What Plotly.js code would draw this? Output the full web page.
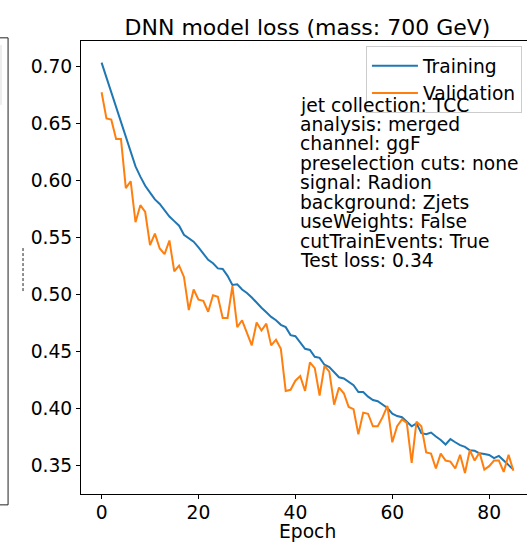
<!DOCTYPE html>
<html>
<head>
<meta charset="utf-8">
<script src="https://cdn.plot.ly/plotly-3.0.1.min.js"></script>
<style>
html,body{margin:0;padding:0;overflow:hidden;background:#fff;width:527px;height:542px;}
#chart{width:545px;height:542px;}
</style>
</head>
<body>
<div id="chart"></div>
<script>
const epochs = Array.from({length: 86}, (_, i) => i);
const trainingLoss = [
0.703,0.690,0.677,0.664,0.651,0.638,0.625,0.612,0.603,0.595,
0.589,0.583,0.579,0.573,0.568,0.564,0.560,0.552,0.549,0.546,
0.541,0.536,0.530,0.527,0.5225,0.522,0.516,0.508,0.5085,0.504,
0.501,0.497,0.492,0.488,0.484,0.480,0.477,0.473,0.471,0.464,
0.463,0.457,0.452,0.451,0.445,0.444,0.438,0.436,0.431,0.427,
0.426,0.423,0.420,0.414,0.414,0.410,0.407,0.406,0.403,0.400,
0.395,0.393,0.392,0.388,0.384,0.3866,0.378,0.377,0.3785,0.375,
0.372,0.368,0.3728,0.370,0.3675,0.366,0.363,0.3625,0.3603,0.3596,
0.3588,0.356,0.358,0.354,0.350,0.346];
const validationLoss = [
0.677,0.654,0.653,0.636,0.636,0.593,0.599,0.563,0.578,0.572,
0.543,0.553,0.540,0.535,0.547,0.520,0.525,0.515,0.486,0.504,
0.495,0.494,0.4845,0.499,0.4977,0.479,0.479,0.507,0.471,0.477,
0.466,0.455,0.475,0.468,0.474,0.455,0.460,0.452,0.415,0.416,
0.424,0.428,0.415,0.440,0.435,0.411,0.437,0.432,0.403,0.418,
0.413,0.401,0.399,0.377,0.396,0.395,0.384,0.384,0.392,0.402,
0.370,0.384,0.390,0.387,0.352,0.388,0.384,0.361,0.360,0.347,
0.360,0.354,0.353,0.347,0.359,0.343,0.363,0.354,0.361,0.346,
0.349,0.354,0.354,0.344,0.359,0.345];
const seriesNames = ["Training", "Validation"];
const infoLines = [
"jet collection: TCC","analysis: merged","channel: ggF","preselection cuts: none",
"signal: Radion","background: Zjets","useWeights: False","cutTrainEvents: True","Test loss: 0.34"];
const titleText = "DNN model loss (mass: 700 GeV)";
const xTitleText = "Epoch";
const xTickVals = [0,20,40,60,80];
const yTickVals = [0.35,0.40,0.45,0.50,0.55,0.60,0.65,0.70];

const FONT = "DejaVu Sans, sans-serif";
const FS = 18.7;
const traces = [
  {x: epochs, y: trainingLoss, name: seriesNames[0], type: "scatter", mode: "lines",
   line: {color: "#1f77b4", width: 2}},
  {x: epochs, y: validationLoss, name: seriesNames[1], type: "scatter", mode: "lines",
   line: {color: "#ff7f0e", width: 2}}
];

const annotations = infoLines.map((t, i) => ({
  text: t, xref: "paper", yref: "paper", x: 0.479, y: 0.8587,
  xanchor: "left", yanchor: "middle", yshift: -i * 19.45, showarrow: false,
  font: {family: FONT, size: FS, color: "#000"}
}));
annotations.push({
  text: xTitleText, xref: "paper", yref: "paper", x: 0.5, y: -0.083,
  xanchor: "center", yanchor: "middle", showarrow: false, borderpad: 0,
  font: {family: FONT, size: FS, color: "#000"}
});

const shapes = [
  {type: "line", xref: "paper", yref: "paper", x0: -0.161, x1: -0.161, y0: -0.024, y1: 1.007, line: {color: "#222", width: 1}},
  {type: "line", xref: "paper", yref: "paper", x0: -0.2, x1: -0.161, y0: 1.007, y1: 1.007, line: {color: "#222", width: 1}},
  {type: "line", xref: "paper", yref: "paper", x0: -0.2, x1: -0.161, y0: -0.024, y1: -0.024, line: {color: "#222", width: 1}},
  {type: "line", xref: "paper", yref: "paper", x0: -0.1766, x1: -0.1766, y0: 0.859, y1: 0.991, line: {color: "#ddd", width: 1}},
  {type: "line", xref: "paper", yref: "paper", x0: -0.128, x1: -0.128, y0: 0.448, y1: 0.545, line: {color: "#222", width: 1, dash: "3px,2px"}}
];

const layout = {
  width: 545, height: 542,
  margin: {l: 81, r: 11, t: 41, b: 48},
  paper_bgcolor: "#fff", plot_bgcolor: "#fff",
  font: {family: FONT, size: FS, color: "#000"},
  title: {text: titleText, font: {family: FONT, size: 22, color: "#000"},
          xref: "paper", x: 0.5, xanchor: "center", yref: "container", y: 0.950, yanchor: "middle"},
  xaxis: {range: [-4.25, 89.25], tickvals: xTickVals, ticks: "outside", ticklen: 4, tickwidth: 1, tickcolor: "#000",
          ticklabelstandoff: -2,
          showgrid: false, zeroline: false, showline: true, linecolor: "#000", linewidth: 1, mirror: true,
          tickfont: {family: FONT, size: FS}},
  yaxis: {range: [0.3246, 0.722], tickvals: yTickVals, tickformat: ".2f", ticks: "outside", ticklen: 4, tickwidth: 1, tickcolor: "#000",
          showgrid: false, zeroline: false, showline: true, linecolor: "#000", linewidth: 1, mirror: true,
          tickfont: {family: FONT, size: FS}},
  showlegend: true,
  legend: {x: 0.629, y: 0.989, xanchor: "left", yanchor: "top", bgcolor: "rgba(255,255,255,0.8)",
           bordercolor: "#ccc", borderwidth: 1, itemwidth: 46, font: {family: FONT, size: FS}},
  annotations: annotations,
  shapes: shapes
};

Plotly.newPlot("chart", traces, layout, {staticPlot: true, displayModeBar: false});
</script>
</body>
</html>
